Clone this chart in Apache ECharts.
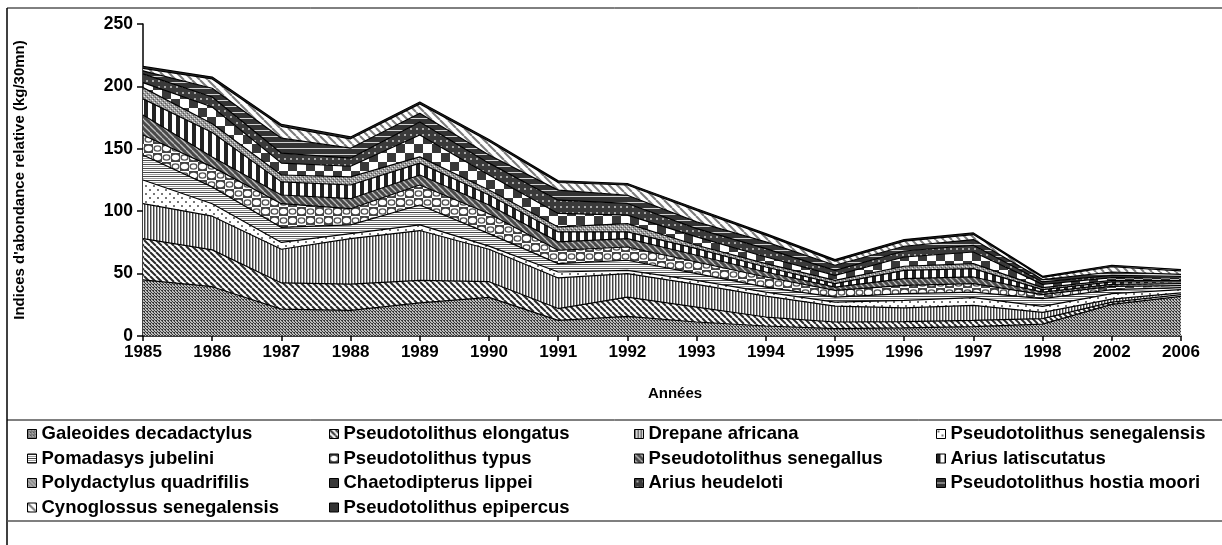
<!DOCTYPE html>
<html><head><meta charset="utf-8">
<script src="https://cdn.jsdelivr.net/npm/echarts@6/dist/echarts.min.js"></script>
<style>html,body{margin:0;padding:0;background:#fff}#c{width:1222px;height:545px}</style>
</head><body><div id="c"></div>
<script>
const years = ['1985','1986','1987','1988','1989','1990','1991','1992','1993','1994','1995','1996','1997','1998','2002','2006'];
const yTicks = [0, 50, 100, 150, 200, 250];
const names = ['Galeoides decadactylus','Pseudotolithus elongatus','Drepane africana','Pseudotolithus senegalensis','Pomadasys jubelini','Pseudotolithus typus','Pseudotolithus senegallus','Arius latiscutatus','Polydactylus quadrifilis','Chaetodipterus lippei','Arius heudeloti','Pseudotolithus hostia moori','Cynoglossus senegalensis','Pseudotolithus epipercus'];
const galeoides      = [45, 39.5, 21.5, 20.5, 26.5, 31, 12.5, 15.7, 11.2, 8, 5.9, 6.5, 7.5, 9.5, 25.4, 31.8];
const elongatus      = [33, 29.5, 21, 21, 18, 12.5, 9.5, 15.5, 12, 7.2, 5.3, 5, 5, 4.4, 1.8, 1.3];
const drepane        = [28, 27, 27, 36.5, 40, 26, 24.5, 18.8, 18.1, 16.7, 12.7, 11, 12, 5.1, 2.3, 1.4];
const senegalensis   = [19, 10, 5.5, 4, 4.5, 2.5, 4.8, 2.6, 3.3, 3.3, 3.3, 6.1, 6.2, 4.8, 4.4, 2.7];
const pomadasys      = [20, 13.5, 12, 7, 16, 10, 6.7, 8.1, 5.4, 4, 4, 5.3, 4.5, 6.1, 3.3, 1.6];
const typus          = [16, 16, 19, 13, 16, 16, 10.7, 10.6, 9.3, 8.1, 5.4, 6.7, 6.8, 3.2, 2.6, 1.6];
const senegallus     = [16, 8, 7, 8, 8, 7, 6.7, 6.7, 5.4, 4, 2.6, 5.4, 5.3, 2.1, 1.6, 1.6];
const latiscutatus   = [13, 19.5, 10.5, 11, 9.5, 8, 8, 5.4, 5.3, 4, 2.8, 6.6, 6.7, 2, 1.9, 1.3];
const polydactylus   = [9, 7, 5.5, 6.5, 5, 4, 4, 6.7, 2.7, 2.7, 2.6, 3.3, 4, 1.6, 1.3, 1.3];
const chaetodipterus = [4, 13.5, 9.5, 8.5, 17.5, 12, 10.8, 6.7, 6.7, 5.3, 4, 7.4, 9.3, 2.6, 2.2, 1.9];
const heudeloti      = [7, 8, 8, 6.5, 10.5, 9.5, 10.6, 9.4, 6.6, 6.7, 4, 4.8, 5.4, 1.9, 1.8, 1.3];
const hostiaMoori    = [2.5, 7, 12, 8, 7, 6.5, 8.1, 6.6, 5.4, 5.4, 4.1, 3.8, 4.6, 1.9, 2.7, 1.6];
const cynoglossus    = [2, 7.5, 9.5, 7.5, 7.5, 11, 6.1, 8.2, 9.3, 5.4, 3.3, 4.1, 4, 1.8, 4.2, 2.8];
const epipercus      = [1.5, 1.5, 1.5, 1.5, 1.5, 1.5, 1.3, 1.2, 1.3, 1.2, 1.2, 1.3, 1.3, 0.8, 1.2, 1.0];
const seriesValues = [galeoides, elongatus, drepane, senegalensis, pomadasys, typus, senegallus, latiscutatus, polydactylus, chaetodipterus, heudeloti, hostiaMoori, cynoglossus, epipercus];

function pat(w, h, draw) {
  const c = document.createElement('canvas'); c.width = w; c.height = h;
  const g = c.getContext('2d'); draw(g, w, h);
  return { image: c, repeat: 'repeat' };
}
function diag(g, w, bg, fg, lw, dir) {
  g.fillStyle = bg; g.fillRect(0, 0, w, w);
  g.strokeStyle = fg; g.lineWidth = lw;
  for (let k = -1; k <= 1; k++) {
    g.beginPath();
    if (dir > 0) { g.moveTo(k * w, 0); g.lineTo(k * w + w, w); }
    else { g.moveTo(k * w + w, 0); g.lineTo(k * w, w); }
    g.stroke();
  }
}
const patterns = [
  pat(3, 3, (g) => { g.fillStyle = '#bdbdbd'; g.fillRect(0,0,3,3); g.fillStyle = '#3a3a3a';
      [[0,0],[1,1],[2,2],[0,2]].forEach(p => g.fillRect(p[0], p[1], 1, 1)); }),
  pat(6, 6, (g, w) => diag(g, w, '#ffffff', '#2a2a2a', 2, 1)),
  pat(3, 2, (g) => { g.fillStyle = '#ffffff'; g.fillRect(0,0,3,2); g.fillStyle = '#444'; g.fillRect(0,0,1,2); g.fillStyle = '#aaa'; g.fillRect(1,0,1,2); }),
  pat(8, 8, (g) => { g.fillStyle = '#ffffff'; g.fillRect(0,0,8,8); g.fillStyle = '#777';
      g.fillRect(1,1,2,2); g.fillRect(5,5,2,2); }),
  pat(2, 4, (g) => { g.fillStyle = '#ffffff'; g.fillRect(0,0,2,4); g.fillStyle = '#444'; g.fillRect(0,0,2,1); g.fillStyle = '#999'; g.fillRect(0,2,2,1); }),
  pat(18, 18, (g) => { g.fillStyle = '#ffffff'; g.fillRect(0,0,18,18); g.fillStyle = '#444';
      g.fillRect(0,0,9,9); g.fillRect(9,9,9,9);
      g.fillStyle = '#fff'; g.beginPath(); g.ellipse(4.5,4.5,3.6,2.8,0,0,Math.PI*2); g.fill(); g.beginPath(); g.ellipse(13.5,13.5,3.6,2.8,0,0,Math.PI*2); g.fill();
      g.strokeStyle = '#555'; g.lineWidth = 1.4; g.beginPath(); g.ellipse(13.5,4.5,3.4,2.6,0,0,Math.PI*2); g.stroke(); g.beginPath(); g.ellipse(4.5,13.5,3.4,2.6,0,0,Math.PI*2); g.stroke(); }),
  pat(6, 6, (g, w) => diag(g, w, '#4a4a4a', '#c0c0c0', 1.3, 1)),
  pat(8, 2, (g) => { g.fillStyle = '#ffffff'; g.fillRect(0,0,8,2); g.fillStyle = '#222'; g.fillRect(0,0,4,2); }),
  pat(4, 4, (g) => { g.fillStyle = '#9a9a9a'; g.fillRect(0,0,4,4); g.fillStyle = '#e8e8e8'; g.fillRect(0,0,1,1); g.fillRect(2,2,1,1); g.fillStyle = '#555'; g.fillRect(1,3,1,1); g.fillRect(3,1,1,1); }),
  pat(18, 18, (g) => { g.fillStyle = '#ffffff'; g.fillRect(0,0,18,18); g.fillStyle = '#383838'; g.fillRect(0,0,9,9); g.fillRect(9,9,9,9); }),
  pat(6, 6, (g) => { g.fillStyle = '#3a3a3a'; g.fillRect(0,0,6,6); g.fillStyle = '#a8a8a8'; g.fillRect(2,2,2,2); }),
  pat(2, 6, (g) => { g.fillStyle = '#333'; g.fillRect(0,0,2,6); g.fillStyle = '#d0d0d0'; g.fillRect(0,4,2,1); }),
  pat(8, 8, (g, w) => diag(g, w, '#ffffff', '#7a7a7a', 2, 1)),
  '#333333'
];

const font = 'Liberation Sans, Arial, sans-serif';
const legendCols = [
  { left: 27, names: [0, 4, 8, 12] },
  { left: 329, names: [1, 5, 9, 13] },
  { left: 634, names: [2, 6, 10] },
  { left: 936, names: [3, 7, 11] }
];

const series = names.map((n, i) => ({
  name: n, type: 'line', stack: 'total', symbol: 'none', data: seriesValues[i],
  lineStyle: { color: '#000', width: 1.2 },
  itemStyle: { color: patterns[i] },
  areaStyle: { color: patterns[i], opacity: 1 },
  emphasis: { disabled: true }, silent: true, z: 2
}));

const legends = legendCols.map(col => ({
  orient: 'vertical', left: col.left, top: 424, padding: 0, itemGap: 4.5,
  itemWidth: 9, itemHeight: 9, selectedMode: false,
  textStyle: { fontFamily: font, fontWeight: 'bold', fontSize: 18.5, color: '#000', lineHeight: 20 },
  data: col.names.map(i => ({ name: names[i], icon: 'rect', itemStyle: { color: patterns[i], borderColor: '#000', borderWidth: 1 } }))
}));

const chart = echarts.init(document.getElementById('c'), null, { renderer: 'canvas' });
chart.setOption({
  animation: false,
  backgroundColor: '#fff',
  grid: { left: 143, right: 41, top: 24, bottom: 209, containLabel: false },
  legend: legends,
  xAxis: {
    type: 'category', data: years, boundaryGap: false,
    axisLine: { lineStyle: { color: '#000', width: 1.5 } },
    axisTick: { show: true, length: 5, lineStyle: { color: '#000', width: 1.5 } },
    axisLabel: { fontFamily: font, fontWeight: 'bold', fontSize: 17, color: '#000', margin: 8 },
    splitLine: { show: false }
  },
  yAxis: {
    type: 'value', min: yTicks[0], max: yTicks[yTicks.length - 1], interval: 50,
    axisLine: { show: true, lineStyle: { color: '#000', width: 1.5 } },
    axisTick: { show: true, length: 6, lineStyle: { color: '#000', width: 1.5 } },
    axisLabel: { fontFamily: font, fontWeight: 'bold', fontSize: 17.5, color: '#000', margin: 10 },
    splitLine: { show: false }
  },
  graphic: [
    { type: 'line', shape: { x1: 7, y1: 8, x2: 1222, y2: 8 }, style: { stroke: '#000', lineWidth: 1 } },
    { type: 'line', shape: { x1: 7, y1: 8, x2: 7, y2: 545 }, style: { stroke: '#000', lineWidth: 1.5 } },
    { type: 'line', shape: { x1: 7, y1: 420, x2: 1222, y2: 420 }, style: { stroke: '#000', lineWidth: 1 } },
    { type: 'line', shape: { x1: 7, y1: 521, x2: 1222, y2: 521 }, style: { stroke: '#555', lineWidth: 1.5 } },
    { type: 'text', x: 20, y: 180, rotation: Math.PI / 2,
      style: { text: "Indices d'abondance relative (kg/30mn)", fontFamily: font, fontWeight: 'bold', fontSize: 15, fill: '#000', align: 'center', verticalAlign: 'middle' } },
    { type: 'text', x: 675, y: 394,
      style: { text: 'Années', fontFamily: font, fontWeight: 'bold', fontSize: 15, fill: '#000', align: 'center', verticalAlign: 'middle' } }
  ],
  series: series
});
</script></body></html>
